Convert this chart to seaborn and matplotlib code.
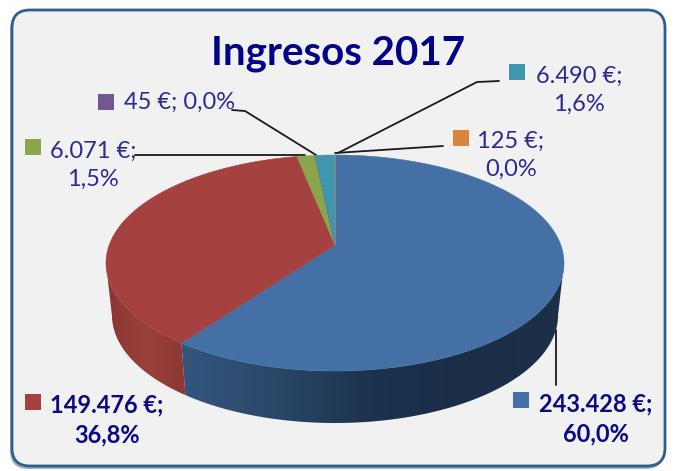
import numpy as np
import matplotlib
matplotlib.use("Agg")
import matplotlib.pyplot as plt
from matplotlib.patches import FancyBboxPatch, Polygon
import seaborn as sns

# Datos del grafico (orden horario desde las 12)
valores = [243428, 149476, 6071, 45, 6490, 125]
etiquetas = ["243.428 €;\n60,0%", "149.476 €;\n36,8%", "6.071 €;\n1,5%",
             "45 €; 0,0%", "6.490 €;\n1,6%", "125 €;\n0,0%"]
colores = ["#4470a6", "#a5423f", "#8aa54a", "#71588f", "#3f96b0", "#db843d"]
titulo = "Ingresos 2017"

sns.set_theme(style="white")
plt.rcParams['font.family'] = ['Lato', 'DejaVu Sans']

fig = plt.figure(figsize=(6.75, 4.71), dpi=100, facecolor="white")

# Ejes en pixeles para el panel, textos y lineas
ax = fig.add_axes([0, 0, 1, 1])
ax.set_xlim(0, 675)
ax.set_ylim(471, 0)
ax.axis("off")

# Sombra y panel
ax.add_patch(FancyBboxPatch((10, 12), 654, 457, boxstyle="round,pad=0,rounding_size=18",
                            fc="#5d6f82", ec="none", alpha=0.55, zorder=1))
ax.add_patch(FancyBboxPatch((12, 10), 653, 456, boxstyle="round,pad=0,rounding_size=18",
                            fc="#f1f1f1", ec="#2f5e8e", lw=2, zorder=2))

# Ejes de la tarta: radio 1 = semiejes de la elipse
cx, cy, rx, ry = 335, 263, 229, 108
profundidad = 52 / ry
encoge = 0.974      # la base se ve algo mas estrecha
desplaza = 0.167    # el centro de la tarta se ve mas arriba por la perspectiva


def perspectiva(angulos):
    # pasa angulos del circulo a puntos de la elipse vista en perspectiva
    x = np.cos(angulos)
    y = np.sin(angulos)
    den = 1 + desplaza * y
    return x * np.sqrt(1 - desplaza ** 2) / den, (y + desplaza) / den


ax2 = fig.add_axes([0, 0, 1, 1], facecolor="none", zorder=3)
cunas, _ = ax2.pie(valores, colors=colores, startangle=90, counterclock=False, radius=1,
                   wedgeprops={"linewidth": 0})

degradados = {0: ["#33567f", "#2a4768", "#1c324d", "#1a2e47", "#1c3048"],
              1: ["#8a3633", "#99403c", "#8c3835"]}

for i, cuna in enumerate(cunas):
    a = np.radians(np.linspace(cuna.theta1, cuna.theta2, 300))
    x, y = perspectiva(a)
    cuna.remove()
    ax2.fill(np.r_[0, x], np.r_[desplaza, y], fc=colores[i], ec=colores[i], lw=0.4, zorder=3)

    # Pared lateral: solo la parte delantera de la porcion
    if i in degradados:
        frente = y <= 0
        xf, yf = x[frente], y[frente]
        pared = np.r_[np.c_[xf, yf], np.c_[xf * encoge, yf - profundidad][::-1]]
        poligono = Polygon(pared, closed=True, transform=ax2.transData, fc="none", ec="none")
        ax2.add_patch(poligono)
        mapa = sns.blend_palette(degradados[i], as_cmap=True)
        izq, der = pared[:, 0].min(), pared[:, 0].max()
        abajo, arriba = pared[:, 1].min(), pared[:, 1].max()
        imagen = ax2.imshow(np.linspace(0, 1, 256).reshape(1, -1), cmap=mapa, aspect="auto",
                            extent=(izq, der, abajo, arriba), zorder=1, interpolation="bilinear")
        imagen.set_clip_path(poligono)

ax2.set_aspect("auto")
ax2.set_xlim(-cx / rx, (675 - cx) / rx)
ax2.set_ylim((cy - 471) / ry, cy / ry)
ax2.axis("off")

# Titulo
ax.text(338, 53, titulo, color="#00008b", fontsize=29, fontweight="bold",
        ha="center", va="center", zorder=5)

# Lineas guia
lineas = [([556, 556], [330, 385]),
          ([135, 305], [155, 155]),
          ([232, 245, 316], [110, 111, 155]),
          ([499, 477, 338], [81, 82, 153]),
          ([443, 335], [146, 153])]
for xs, ys in lineas:
    ax.plot(xs, ys, color="#1a1a1a", lw=1.3, zorder=6)

# Marcadores y etiquetas
marcas = [(521, 400), (33, 402), (33, 147), (106, 102), (517, 72), (461, 138)]
textos = [(596, 419), (107, 420), (93, 165), (180, 102), (579, 90), (511, 155)]
for i, et in enumerate(etiquetas):
    ax.scatter(*marcas[i], marker="s", s=125, color=colores[i], linewidths=0, zorder=6)
    negrita = i < 2
    ax.text(*textos[i], et, color="#0a0a85" if negrita else "#2b2b8f",
            fontsize=17, fontweight="bold" if negrita else "normal",
            ha="center", va="center", linespacing=1.4, zorder=7)

fig.savefig("out.png", dpi=100)
